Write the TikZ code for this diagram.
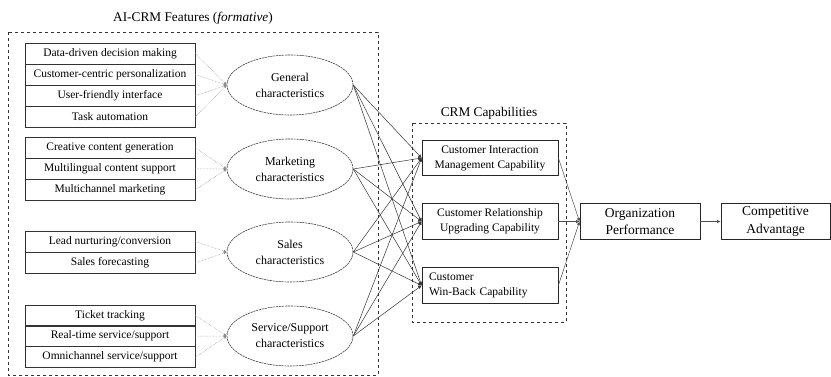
\documentclass[tikz,border=0pt]{standalone}
\usepackage{fontspec}
\setmainfont{Liberation Serif}
\usetikzlibrary{arrows.meta,shapes.geometric}
\begin{document}
\begin{tikzpicture}[x=1pt,y=-1pt,
  feat/.style={draw=black!80,line width=0.7pt,rectangle,minimum width=170pt,minimum height=21pt,inner sep=0pt,font=\fontsize{11.5}{13}\selectfont},
  charell/.style={draw=black!75,line width=0.6pt,dash pattern=on 2.2pt off 0.7pt,ellipse,minimum width=126pt,minimum height=60pt,inner sep=0pt,align=center,font=\fontsize{12}{16}\selectfont},
  capbox/.style={draw=black!85,line width=0.7pt,rectangle,minimum width=136pt,minimum height=35.5pt,inner sep=0pt,font=\fontsize{11.5}{15}\selectfont},
  perfbox/.style={draw=black!85,line width=0.9pt,rectangle,minimum height=35.5pt,inner sep=0pt,align=center,font=\fontsize{13.5}{17.5}\selectfont},
  grpbox/.style={draw=black!80,line width=0.6pt,dashed},
  grptitle/.style={font=\fontsize{13.3}{16}\selectfont},
  featarrow/.style={draw=black!45,line width=0.5pt,densely dotted,-{Latex[length=3pt,width=3.2pt]}},
  caparrow/.style={draw=black!80,line width=0.5pt,-{Latex[length=3.5pt,width=3.5pt]}},
  perfarrow/.style={draw=black!70,line width=0.5pt,-{Latex[length=3.5pt,width=3.5pt]}}
]
\useasboundingbox (0,0) rectangle (831,377);

% group frames
\draw[grpbox] (8,32) rectangle (378,375);
\draw[grpbox] (412,123) rectangle (566,322);
\node[grptitle] (t1) at (193,18) {AI-CRM Features (\textit{formative})};
\node[grptitle] (t2) at (489,113) {CRM Capabilities};

% feature rows
\node[feat] (f1) at (110,53.6) {Data-driven decision making};
\node[feat] (f2) at (110,74.6) {Customer-centric personalization};
\node[feat] (f3) at (110,95.8) {User-friendly interface};
\node[feat] (f4) at (110,117) {Task automation};
\node[feat] (f5) at (110,147.8) {Creative content generation};
\node[feat] (f6) at (110,168.8) {Multilingual content support};
\node[feat] (f7) at (110,189.9) {Multichannel marketing};
\node[feat] (f8) at (110,241.6) {Lead nurturing/conversion};
\node[feat] (f9) at (110,262.8) {Sales forecasting};
\node[feat] (f10) at (110,315.4) {Ticket tracking};
\node[feat] (f11) at (110,336.2) {Real-time service/support};
\node[feat] (f12) at (110,357.2) {Omnichannel service/support};

% characteristic ellipses
\node[charell] (e1) at (290,85) {General\\characteristics};
\node[charell] (e2) at (290,169) {Marketing\\characteristics};
\node[charell] (e3) at (290,252) {Sales\\characteristics};
\node[charell] (e4) at (290,336) {Service/Support\\characteristics};

% capability boxes
\node[capbox,align=center] (c1) at (490,158) {Customer Interaction\\Management Capability};
\node[capbox,align=center] (c2) at (490,221.5) {Customer Relationship\\Upgrading Capability};
\node[capbox,align=left,text width=122pt] (c3) at (490,285.5) {Customer\\Win-Back Capability};

% outcome boxes
\node[perfbox,minimum width=120pt] (op) at (640,221.5) {Organization\\Performance};
\node[perfbox,minimum width=109pt] (ca) at (775.5,221.5) {Competitive\\Advantage};

% feature -> characteristic
\foreach \f in {f1,f2,f3,f4} \draw[featarrow] (\f.east) -- (e1.west);
\foreach \f in {f5,f6,f7} \draw[featarrow] (\f.east) -- (e2.west);
\foreach \f in {f8,f9} \draw[featarrow] (\f.east) -- (e3.west);
\foreach \f in {f10,f11,f12} \draw[featarrow] (\f.east) -- (e4.west);

% characteristic -> capability
\foreach \e in {e1,e2,e3,e4}
  \foreach \c in {c1,c2,c3}
    \draw[caparrow] (\e.east) -- (\c.west);

% capability -> performance
\foreach \c in {c1,c2,c3} \draw[perfarrow] (\c.east) -- (op.west);
\draw[perfarrow] (op.east) -- (ca.west);
\end{tikzpicture}
\end{document}
